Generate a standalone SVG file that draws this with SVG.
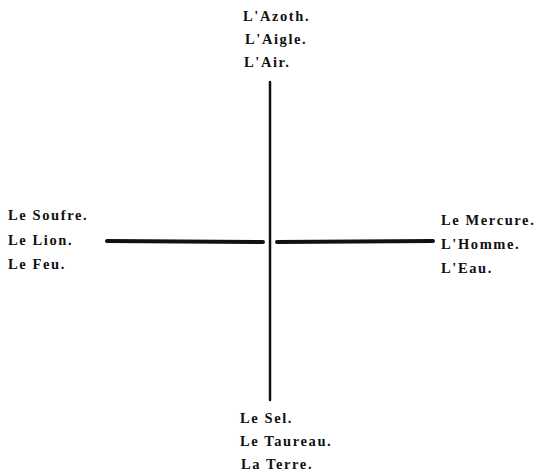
<svg xmlns="http://www.w3.org/2000/svg" width="538" height="472" viewBox="0 0 538 472">
<style>
.t{font-family:"Liberation Serif","Times New Roman",serif;font-weight:bold;font-size:14.5px;fill:#111;letter-spacing:1.6px}
.l{stroke:#111;fill:none;stroke-linecap:round}
</style>
<rect width="538" height="472" fill="#fff"/>
<g id="connectors">
<line class="l" x1="270" y1="82" x2="270" y2="400" stroke-width="2.5"/>
<line class="l" x1="107" y1="241" x2="263" y2="242" stroke-width="4"/>
<line class="l" x1="277" y1="242" x2="433" y2="241" stroke-width="4"/>
</g>
<g id="top">
<text class="t" x="243" y="21">L'Azoth.</text>
<text class="t" x="245" y="44">L'Aigle.</text>
<text class="t" x="244" y="67">L'Air.</text>
</g>
<g id="left">
<text class="t" x="8" y="220">Le Soufre.</text>
<text class="t" x="8" y="245">Le Lion.</text>
<text class="t" x="8" y="269">Le Feu.</text>
</g>
<g id="right">
<text class="t" x="441" y="225">Le Mercure.</text>
<text class="t" x="441" y="249">L'Homme.</text>
<text class="t" x="441" y="273">L'Eau.</text>
</g>
<g id="bottom">
<text class="t" x="240" y="423">Le Sel.</text>
<text class="t" x="240" y="446">Le Taureau.</text>
<text class="t" x="241" y="469">La Terre.</text>
</g>
</svg>
